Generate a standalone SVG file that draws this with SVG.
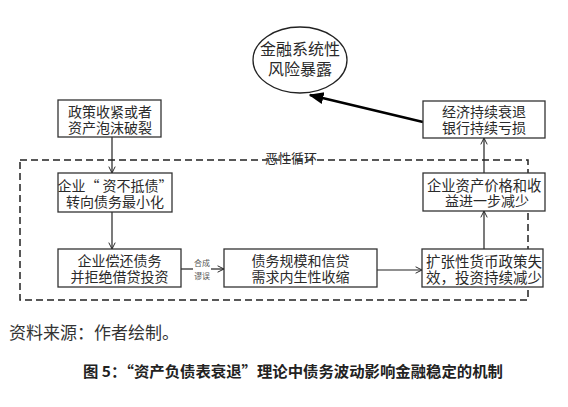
<svg xmlns="http://www.w3.org/2000/svg" width="568" height="407" viewBox="0 0 568 407">
<style>
text{font-family:"Noto Sans CJK SC","Noto Sans CJK JP",sans-serif;fill:#2a2a2a;dominant-baseline:central}
.box{fill:#fff;stroke:#333;stroke-width:1.3}
.t{font-size:14px;text-anchor:middle}
.c{fill:none;stroke:#222;stroke-width:1.2}
</style>
<defs>
<marker id="open" viewBox="0 0 10 10" refX="9" refY="5" markerWidth="8" markerHeight="8" orient="auto" markerUnits="userSpaceOnUse"><path d="M1,1 L9,5 L1,9" fill="none" stroke="#222" stroke-width="1.2"/></marker>
<marker id="solid" viewBox="0 0 10 10" refX="9" refY="5" markerWidth="6" markerHeight="6" orient="auto"><path d="M0,1 L10,5 L0,9 Z" fill="#000"/></marker>
</defs>
<rect x="20" y="160" width="508" height="140" fill="none" stroke="#222" stroke-width="1.5" stroke-dasharray="7 4"/>
<text x="291" y="157" style="font-size:13px;text-anchor:middle">恶性循环</text>
<g id="connectors">
<line class="c" x1="112" y1="137" x2="112" y2="173" marker-end="url(#open)"/>
<line class="c" x1="112" y1="212" x2="112" y2="249" marker-end="url(#open)"/>
<line class="c" x1="181" y1="269" x2="193" y2="269"/>
<line class="c" x1="211" y1="269" x2="224" y2="269" marker-end="url(#open)"/>
<text x="202" y="262" style="font-size:8px;text-anchor:middle;fill:#555">合成</text>
<text x="202" y="275" style="font-size:8px;text-anchor:middle;fill:#555">谬误</text>
<line class="c" x1="377" y1="270" x2="422" y2="270" marker-end="url(#open)"/>
<line class="c" x1="484" y1="249" x2="484" y2="211" marker-end="url(#open)"/>
<line class="c" x1="484" y1="173" x2="484" y2="138" marker-end="url(#open)"/>
<line x1="423" y1="122" x2="310" y2="95" stroke="#000" stroke-width="2.5" marker-end="url(#solid)"/>
</g>
<g id="risk">
<ellipse cx="300" cy="60" rx="47" ry="33" fill="#fff" stroke="#222" stroke-width="1.3"/>
<text x="300" y="48" style="font-size:16px;text-anchor:middle">金融系统性</text>
<text x="300" y="68" style="font-size:16px;text-anchor:middle">风险暴露</text>
</g>
<g id="policy">
<rect class="box" x="58" y="100" width="103" height="37"/>
<text class="t" x="110" y="111">政策收紧或者</text>
<text class="t" x="110" y="127">资产泡沫破裂</text>
</g>
<g id="firm-min">
<rect class="box" x="58" y="173" width="114" height="39"/>
<text class="t" x="115" y="185">企业“ 资不抵债”</text>
<text class="t" x="115" y="201">转向债务最小化</text>
</g>
<g id="firm-repay">
<rect class="box" x="58" y="249" width="123" height="38"/>
<text class="t" x="119.5" y="260">企业偿还债务</text>
<text class="t" x="119.5" y="276">并拒绝借贷投资</text>
</g>
<g id="credit">
<rect class="box" x="224" y="249" width="153" height="38"/>
<text class="t" x="300.5" y="260">债务规模和信贷</text>
<text class="t" x="300.5" y="276">需求内生性收缩</text>
</g>
<g id="monetary">
<rect class="box" x="422" y="249" width="121" height="38"/>
<text x="426" y="260" style="font-size:14.5px">扩张性货币政策失</text>
<text x="426" y="276" style="font-size:14.5px">效，投资持续减少</text>
</g>
<g id="asset">
<rect class="box" x="423" y="173" width="122" height="38"/>
<text x="427" y="184" style="font-size:14.3px">企业资产价格和收</text>
<text class="t" x="487" y="200">益进一步减少</text>
</g>
<g id="recession">
<rect class="box" x="423" y="101" width="122" height="37"/>
<text class="t" x="484" y="111">经济持续衰退</text>
<text class="t" x="484" y="127">银行持续亏损</text>
</g>
<text x="9" y="331" style="font-size:17px;fill:#333">资料来源：作者绘制。</text>
<text x="83" y="370" textLength="420" lengthAdjust="spacingAndGlyphs" style="font-size:15px;font-weight:bold;fill:#222">图 5：“资产负债表衰退”理论中债务波动影响金融稳定的机制</text>
</svg>
